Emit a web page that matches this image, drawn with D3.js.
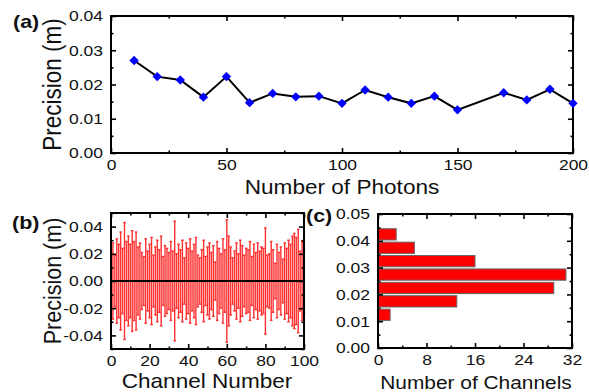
<!DOCTYPE html>
<meta charset="utf-8">
<style>
body { margin: 0; background: #fff; }
svg { display: block; font-family: Arial, "Liberation Sans", sans-serif; }
</style>
<svg width="589" height="392"></svg>
<script src="https://d3js.org/d3.v7.min.js"></script>
<script>

// (a) precision vs number of photons
var photons = [10, 20, 30, 40, 50, 60, 70, 80, 90, 100, 110, 120, 130, 140, 150, 170, 180, 190, 200];
var precisionA = [0.0270, 0.0223, 0.0213, 0.0163, 0.0223, 0.0147, 0.0174, 0.0164, 0.0166, 0.0145,
                  0.0184, 0.0163, 0.0145, 0.0166, 0.0126, 0.0176, 0.0155, 0.0186, 0.0145];

// (b) per-channel precision (half height of each error bar), channels 1..100
var channelPrecision = [
  0.028, 0.019, 0.031, 0.027, 0.036, 0.024, 0.043, 0.029, 0.033, 0.027,
  0.037, 0.029, 0.036, 0.025, 0.028, 0.021, 0.018, 0.031, 0.022, 0.027,
  0.032, 0.019, 0.025, 0.030, 0.023, 0.033, 0.018, 0.026, 0.024, 0.021,
  0.029, 0.022, 0.044, 0.020, 0.027, 0.023, 0.030, 0.017, 0.028, 0.024,
  0.031, 0.022, 0.027, 0.032, 0.019, 0.017, 0.023, 0.030, 0.018, 0.025,
  0.028, 0.021, 0.026, 0.014, 0.029, 0.024, 0.020, 0.031, 0.023, 0.045,
  0.033, 0.025, 0.017, 0.022, 0.028, 0.020, 0.030, 0.026, 0.019, 0.024,
  0.023, 0.029, 0.018, 0.027, 0.021, 0.028, 0.022, 0.025, 0.024, 0.039,
  0.019, 0.020, 0.029, 0.023, 0.013, 0.027, 0.021, 0.025, 0.016, 0.028,
  0.024, 0.030, 0.027, 0.033, 0.035, 0.032, 0.038, 0.022, 0.029, 0.023
];

// (c) histogram of channel precision
var binStart = [0.010, 0.015, 0.020, 0.025, 0.030, 0.035, 0.040];
var binCount = [2, 13, 29, 31, 16, 6, 3];

var svg = d3.select("svg");
var SX = 1.13; // the figure's text is a little wide

function label(x, y, str, size, anchor, weight, rot) {
  var t = "translate(" + x + "," + y + ") scale(" + SX + ",1)" + (rot ? " rotate(" + rot + ")" : "");
  svg.append("text")
      .attr("transform", t)
      .attr("text-anchor", anchor || "middle")
      .attr("fill", "#111")
      .style("font-size", size + "px")
      .style("font-weight", weight || "normal")
      .text(str);
}

function fmt(f) {
  var base = d3.format(f);
  return function(d) { return base(d).replace("\u2212", "-"); };
}

// draws a box with inward ticks on all four sides
function frame(x, y, xMajor, xMinor, yMajor, yMinor, xFmt, yFmt) {
  var x0 = x.range()[0], x1 = x.range()[1], y0 = y.range()[0], y1 = y.range()[1];
  var g = svg.append("g");

  g.append("g").attr("transform", "translate(0," + y0 + ")")
      .call(d3.axisBottom(x).tickValues(xMinor).tickSize(-2.5).tickFormat(""));
  g.append("g").attr("transform", "translate(0," + y1 + ")")
      .call(d3.axisTop(x).tickValues(xMinor).tickSize(-2.5).tickFormat(""));
  g.append("g").attr("transform", "translate(" + x0 + ",0)")
      .call(d3.axisLeft(y).tickValues(yMinor).tickSize(-2.5).tickFormat(""));
  g.append("g").attr("transform", "translate(" + x1 + ",0)")
      .call(d3.axisRight(y).tickValues(yMinor).tickSize(-2.5).tickFormat(""));

  g.append("g").attr("transform", "translate(0," + y1 + ")")
      .call(d3.axisTop(x).tickValues(xMajor).tickSize(-5).tickFormat(""));
  g.append("g").attr("transform", "translate(" + x1 + ",0)")
      .call(d3.axisRight(y).tickValues(yMajor).tickSize(-5).tickFormat(""));

  g.append("g").attr("class", "lab").attr("transform", "translate(0," + y0 + ")")
      .call(d3.axisBottom(x).tickValues(xMajor).tickSizeInner(-5).tickSizeOuter(0).tickPadding(6).tickFormat(xFmt));
  g.append("g").attr("class", "lab").attr("transform", "translate(" + x0 + ",0)")
      .call(d3.axisLeft(y).tickValues(yMajor).tickSizeInner(-5).tickSizeOuter(0).tickPadding(7).tickFormat(yFmt));

  g.selectAll(".domain").remove();
  g.selectAll("line").attr("stroke", "#000").attr("stroke-width", 1.6);
  g.selectAll(".lab text")
      .attr("fill", "#111")
      .style("font-size", "15.5px")
      .style("font-family", "Arial, 'Liberation Sans', sans-serif")
      .attr("transform", "scale(" + SX + ",1)");

  g.append("rect")
      .attr("x", x0).attr("y", y1)
      .attr("width", x1 - x0).attr("height", y0 - y1)
      .attr("fill", "none").attr("stroke", "#000").attr("stroke-width", 2);
  return g;
}

// ---------- (a) ----------
var xa = d3.scaleLinear().domain([0, 200]).range([111, 573]);
var ya = d3.scaleLinear().domain([0, 0.04]).range([153, 16]);

var line = d3.line().x(function(d, i) { return xa(photons[i]); }).y(function(d) { return ya(d); });

svg.append("path")
    .datum(precisionA)
    .attr("d", line)
    .attr("fill", "none")
    .attr("stroke", "#000")
    .attr("stroke-width", 2);

frame(xa, ya, d3.range(0, 201, 50), d3.range(25, 200, 50),
      d3.range(0, 0.0401, 0.01), d3.range(0.005, 0.04, 0.01), fmt("d"), fmt(".2f"));

svg.append("g").selectAll("path")
    .data(precisionA)
    .enter().append("path")
    .attr("d", d3.symbol().type(d3.symbolSquare).size(44))
    .attr("transform", function(d, i) { return "translate(" + xa(photons[i]) + "," + ya(d) + ") rotate(45)"; })
    .attr("fill", "#0000ff");

label(342, 194, "Number of Photons", 20);
label(61, 84.5, "Precision (m)", 22.5, "middle", "normal", -90);
label(13, 28, "(a)", 19, "start", "bold");

// ---------- (b) ----------
var xb = d3.scaleLinear().domain([0, 100]).range([111, 304]);
var yb = d3.scaleLinear().domain([-0.05, 0.05]).range([349, 213]);

var eb = svg.append("g").attr("stroke", "#ff3030").attr("stroke-width", 1.4);
eb.selectAll(".bar")
    .data(channelPrecision)
    .enter().append("line")
    .attr("x1", function(d, i) { return xb(i + 1); })
    .attr("x2", function(d, i) { return xb(i + 1); })
    .attr("y1", function(d) { return yb(-d); })
    .attr("y2", function(d) { return yb(d); });
eb.selectAll(".capT")
    .data(channelPrecision)
    .enter().append("line")
    .attr("x1", function(d, i) { return xb(i + 1) - 1.3; })
    .attr("x2", function(d, i) { return xb(i + 1) + 1.3; })
    .attr("y1", function(d) { return yb(d); })
    .attr("y2", function(d) { return yb(d); });
eb.selectAll(".capB")
    .data(channelPrecision)
    .enter().append("line")
    .attr("x1", function(d, i) { return xb(i + 1) - 1.3; })
    .attr("x2", function(d, i) { return xb(i + 1) + 1.3; })
    .attr("y1", function(d) { return yb(-d); })
    .attr("y2", function(d) { return yb(-d); });

svg.append("line")
    .attr("x1", xb(0)).attr("x2", xb(100))
    .attr("y1", yb(0)).attr("y2", yb(0))
    .attr("stroke", "#000").attr("stroke-width", 2);

frame(xb, yb, d3.range(0, 101, 20), d3.range(10, 100, 20),
      [-0.04, -0.02, 0, 0.02, 0.04], [-0.05, -0.03, -0.01, 0.01, 0.03, 0.05], fmt("d"), fmt(".2f"));

label(207, 388, "Channel Number", 20);
label(61, 281, "Precision (m)", 21.5, "middle", "normal", -90);
label(12, 229, "(b)", 19, "start", "bold");

// ---------- (c) ----------
var xc = d3.scaleLinear().domain([0, 32]).range([378, 572]);
var yc = d3.scaleLinear().domain([0, 0.05]).range([348, 214]);

svg.append("g").selectAll("rect")
    .data(binCount)
    .enter().append("rect")
    .attr("x", xc(0))
    .attr("y", function(d, i) { return yc(binStart[i] + 0.0045); })
    .attr("width", function(d) { return xc(d) - xc(0); })
    .attr("height", function(d, i) { return yc(binStart[i] + 0.0003) - yc(binStart[i] + 0.0045); })
    .attr("fill", "#ff0000")
    .attr("stroke", "#666")
    .attr("stroke-width", 1);

frame(xc, yc, d3.range(0, 33, 8), d3.range(4, 32, 8),
      d3.range(0, 0.0501, 0.01), d3.range(0.005, 0.05, 0.01), fmt("d"), fmt(".2f"));

label(476, 389, "Number of Channels", 18.5);
label(306, 222, "(c)", 19, "start", "bold");

</script>
